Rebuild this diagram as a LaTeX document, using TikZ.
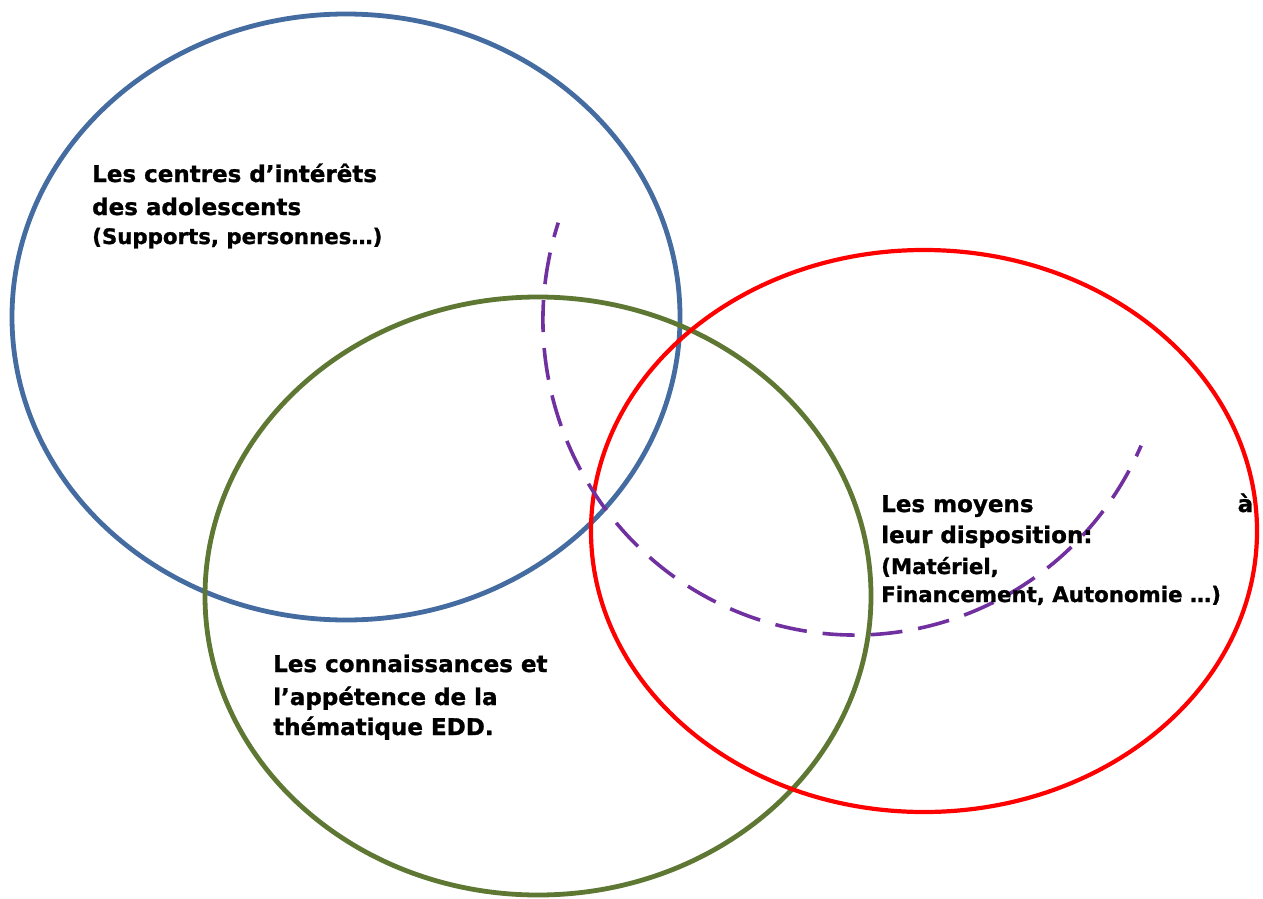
\documentclass[tikz,border=0pt]{standalone}
\usepackage{fontspec}
\setmainfont{DejaVu Sans}[BoldFeatures={FakeBold=1.2}]
\definecolor{cblue}{RGB}{68,108,160}
\definecolor{cgreen}{RGB}{94,120,52}
\definecolor{cred}{RGB}{255,0,0}
\definecolor{cpurple}{RGB}{112,48,160}
\tikzset{
  big/.style={anchor=base west, inner sep=0pt, font=\bfseries\fontsize{23}{28}\selectfont},
  small/.style={anchor=base west, inner sep=0pt, font=\bfseries\fontsize{21.3}{26}\selectfont},
  ring/.style={line width=4.8pt},
}
\begin{document}
\begin{tikzpicture}[x=1pt,y=1pt]
\useasboundingbox (0,0) rectangle (1263,-899);
\coordinate (cb) at (346,-317);
\coordinate (cg) at (538,-596);
\coordinate (cr) at (924,-531);
\coordinate (cp) at (855,-320);
\draw[ring, cblue] (cb) ellipse [x radius=334, y radius=303];
\draw[ring, cgreen] (cg) ellipse [x radius=333, y radius=299];
\draw[ring, cred, line width=4.2pt] (cr) ellipse [x radius=333, y radius=281];
\draw[cpurple, line width=3.6pt, dash pattern=on 32pt off 16pt, dash phase=17pt]
  (cp) ++(162:312 and 315) coordinate (ps)
  arc [start angle=162, end angle=336.5, x radius=312, y radius=315] coordinate (pe);

\node[big] (b1) at (92,-182) {Les centres d’intérêts};
\node[big] (b2) at (92,-215) {des adolescents};
\node[small] (b3) at (92,-244) {(Supports, personnes…)};

\node[big] (g1) at (273,-672) {Les connaissances et};
\node[big] (g2) at (273,-705) {l’appétence de la};
\node[big] (g3) at (273,-735) {thématique EDD.};

\node[big] (r1) at (881,-512) {\makebox[372pt][l]{Les moyens\hfill à}};
\node[big] (r2) at (881,-543) {leur disposition:};
\node[small] (r3) at (881,-574) {(Matériel,};
\node[small] (r4) at (881,-602) {Financement, Autonomie …)};
\end{tikzpicture}
\end{document}
